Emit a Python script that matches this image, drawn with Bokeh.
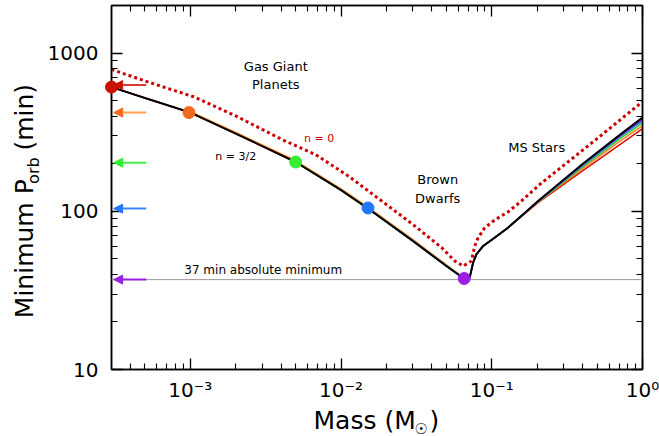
import math
from bokeh.plotting import figure
from bokeh.layouts import row, column
from bokeh.models import (Range1d, FixedTicker, LogAxis, Label, Arrow, NormalHead,
                          Span, CustomJSTickFormatter)
from bokeh.embed import file_html
from bokeh.resources import INLINE
from bokeh.core.properties import value

# ---------------- data ----------------
# n = 3/2 sequence (black)
mass_black = [3.0e-4, 5.0e-4, 1.0e-3, 2.0e-3, 5.0e-3, 1.0e-2, 1.5e-2, 3.0e-2, 5.0e-2,
              0.0656, 0.0714, 0.0752, 0.0791, 0.0876, 0.1045, 0.128, 0.161, 0.202,
              0.4, 0.7, 1.0]
porb_black = [610, 520, 421, 310, 205, 136, 104.6, 64.9, 45.1,
              37.5, 38.1, 47.4, 53.5, 60.3, 68.1, 78.7, 95.5, 115.8,
              199, 302, 391]

# coloured sequences (start at their dots)
mass_red = mass_black
porb_red = [610, 520, 421, 310, 205, 136, 104.6, 64.9, 45.1,
            37.5, 38.1, 47.4, 53.5, 60.3, 68.1, 78.5, 94.5, 113,
            180, 262, 333]
mass_orange = [1.0e-3, 2.0e-3, 5.0e-3, 1.0e-2, 1.5e-2, 3.0e-2, 5.0e-2,
               0.0656, 0.0714, 0.0752, 0.0791, 0.0876, 0.1045, 0.128, 0.161, 0.202,
               0.4, 0.7, 1.0]
porb_orange = [426, 315, 208.5, 138.5, 106.5, 66.2, 45.8,
               37.8, 38.4, 47.7, 53.8, 60.5, 68.3, 78.7, 95, 114,
               186, 276, 348]
mass_green = [5.0e-3, 1.0e-2, 1.5e-2, 3.0e-2, 5.0e-2,
              0.0656, 0.0714, 0.0752, 0.0791, 0.0876, 0.1045, 0.128, 0.161, 0.202,
              0.4, 0.7, 1.0]
porb_green = [205, 136, 104.6, 64.9, 45.1,
              37.5, 38.1, 47.4, 53.5, 60.3, 68.1, 78.7, 95.2, 114.5,
              191, 286, 362]
mass_blue = [1.5e-2, 3.0e-2, 5.0e-2,
             0.0656, 0.0714, 0.0752, 0.0791, 0.0876, 0.1045, 0.128, 0.161, 0.202,
             0.4, 0.7, 1.0]
porb_blue = [104.6, 64.9, 45.1,
             37.5, 38.1, 47.4, 53.5, 60.3, 68.1, 78.7, 95.3, 115,
             195, 294, 375]
mass_purple = [0.0656, 0.0714, 0.0752, 0.0791, 0.0876, 0.1045, 0.128, 0.161, 0.202,
               0.4, 0.7, 1.0]
porb_purple = [37.5, 38.1, 47.4, 53.5, 60.3, 68.1, 78.7, 95.4, 115.5,
               197, 298, 383]

# n = 0 sequence (red dotted)
mass_n0 = [3.0e-4, 5.0e-4, 1.05e-3, 2.0e-3, 4.1e-3, 6.8e-3, 1.13e-2, 1.87e-2, 3.1e-2,
           4.65e-2, 5.69e-2, 6.46e-2, 7.33e-2, 7.71e-2, 8.12e-2, 8.98e-2, 0.1045,
           0.128, 0.157, 0.212, 0.5, 1.0]
porb_n0 = [789, 667, 530, 401, 283, 228, 166, 115.8, 80.5,
           58.9, 48.5, 45.1, 48.5, 60.3, 68.1, 78.7, 88,
           99, 116, 150, 288, 493]

# starting dots and arrows
dot_mass = [3.0e-4, 9.8e-4, 5.0e-3, 1.51e-2, 6.56e-2]
dot_porb = [610, 421, 205, 105, 37.6]
arrow_porb = [628, 421, 203, 104, 37]
dot_colors = ["#cc1100", "#f26b1d", "#33ee33", "#2277ff", "#9b1fe0"]
arrow_colors = ["#d83a30", "#ffa04a", "#44ee44", "#3a86ff", "#9b1fe0"]

abs_min = 37

x_ticks = [1e-3, 1e-2, 1e-1, 1.0]
x_tick_labels = ["10⁻³", "10⁻²", "10⁻¹", "10⁰"]
y_ticks = [10, 100, 1000]
y_tick_labels = ["10", "100", "1000"]

FONT = "DejaVu Sans"
STRIP_W = 44

# ---------------- main figure ----------------
p = figure(width=659 - STRIP_W, height=404, x_axis_type="log", y_axis_type="log",
           x_range=Range1d(3e-4, 1.0), y_range=Range1d(10, 2000),
           output_backend="svg", toolbar_location=None,
           min_border_left=108 - STRIP_W, min_border_right=17, min_border_top=5,
           min_border_bottom=33)
p.grid.visible = False
p.outline_line_color = "black"
p.outline_line_width = 1.5
p.background_fill_color = "white"
p.border_fill_color = "white"

x_minor = [m * 10.0 ** e for e in range(-4, 0) for m in range(2, 10)]
y_minor = [m * 10.0 ** e for e in range(1, 4) for m in range(2, 10)]
xt = FixedTicker(ticks=x_ticks, minor_ticks=x_minor)
yt = FixedTicker(ticks=y_ticks, minor_ticks=y_minor)


def style_axis(ax):
    ax.axis_line_color = "black"
    ax.axis_line_width = 1.5
    ax.major_tick_line_color = "black"
    ax.minor_tick_line_color = "black"
    ax.major_tick_line_width = 1.3
    ax.minor_tick_line_width = 1.1
    ax.major_tick_in = 11
    ax.major_tick_out = 0
    ax.minor_tick_in = 6
    ax.minor_tick_out = 0


xa = p.xaxis[0]
xa.ticker = xt
style_axis(xa)
xa.major_label_overrides = {t: s for t, s in zip(x_ticks, x_tick_labels)}
xa.major_label_text_font = FONT
xa.major_label_text_font_size = "20px"
xa.major_label_text_color = "black"
xa.major_label_standoff = 8

ya = p.yaxis[0]
ya.ticker = yt
style_axis(ya)
ya.major_label_overrides = {t: s for t, s in zip(y_ticks, y_tick_labels)}
ya.major_label_text_font = FONT
ya.major_label_text_font_size = "20px"
ya.major_label_text_color = "black"
ya.major_label_standoff = 13

blank = CustomJSTickFormatter(code="return ''")
top = LogAxis(ticker=xt, formatter=blank, major_label_text_font_size="0px",
              major_label_standoff=0)
right = LogAxis(ticker=yt, formatter=blank, major_label_text_font_size="0px",
                major_label_standoff=0)
style_axis(top)
style_axis(right)
p.add_layout(top, "above")
p.add_layout(right, "right")

# absolute minimum line
p.add_layout(Span(location=abs_min, dimension="width", line_color="#999999",
                  line_width=1))

# coloured sequences
series = [(mass_red, porb_red, "#dd1100"), (mass_orange, porb_orange, "#ff7f1a"),
          (mass_green, porb_green, "#22cc44"), (mass_blue, porb_blue, "#1f6fff"),
          (mass_purple, porb_purple, "#8a2be2")]
for m, pv, c in series:
    p.line(m, pv, line_color=c, line_width=1.6)

# black n=3/2
p.line(mass_black, porb_black, line_color="black", line_width=2.0)

# red dotted n=0
p.line(mass_n0, porb_n0, line_color="#cc0000", line_width=3.0, line_dash="3 3")

# arrows
for pv, c, hc in zip(arrow_porb, arrow_colors, dot_colors):
    p.add_layout(Arrow(x_start=5.1e-4, y_start=pv, x_end=3.1e-4, y_end=pv,
                       line_color=c, line_width=2,
                       end=NormalHead(size=9, fill_color=hc, line_color=hc)))

# dots
p.scatter(dot_mass, dot_porb, size=12, fill_color=dot_colors, line_color=dot_colors,
          level="overlay")


def txt(x, y, s, size="13px", color="black", align="center"):
    p.add_layout(Label(x=x, y=y, text=s, text_font=FONT, text_font_size=size,
                       text_color=color, text_align=align, text_baseline="middle"))


txt(3.69e-3, 827, "Gas Giant")
txt(3.69e-3, 631, "Planets")
txt(7.16e-3, 290, "n = 0", size="11px", color="#cc0000")
txt(2.0e-3, 222, "n = 3/2", size="11px")
txt(0.0438, 158.5, "Brown")
txt(0.0438, 120.4, "Dwarfs")
txt(0.1986, 253, "MS Stars")
txt(9.12e-4, 42.6, "37 min absolute minimum", size="12px", align="left")


# ---------------- axis-title strips ----------------
def strip(w, h):
    f = figure(width=w, height=h, x_range=Range1d(0, w), y_range=Range1d(0, h),
               output_backend="svg", toolbar_location=None,
               x_axis_location=None, y_axis_location=None, min_border=0)
    f.grid.visible = False
    f.outline_line_color = None
    f.border_fill_color = "white"
    f.background_fill_color = "white"
    return f


ylab = strip(STRIP_W, 404)
ytitle = ["Minimum P", "orb", "(min)"]
ylab.text(x=[24, 32.5, 24], y=[57, 206, 243], text=ytitle,
          text_font=value(FONT), text_font_size=["25px", "16px", "25px"],
          angle=math.pi / 2, text_align="left", text_baseline="middle",
          text_color="black")

xlab = strip(659, 32)
xtitle = ["Mass (M", "☉", ")"]
xlab.text(x=[313, 414, 429], y=[16, 8, 16], text=xtitle,
          text_font=value(FONT), text_font_size=["25px", "15px", "25px"],
          text_align="left", text_baseline="middle", text_color="black")

layout = column(row(ylab, p, spacing=0), xlab, spacing=0)

open("out.html", "w").write(file_html(layout, INLINE))
